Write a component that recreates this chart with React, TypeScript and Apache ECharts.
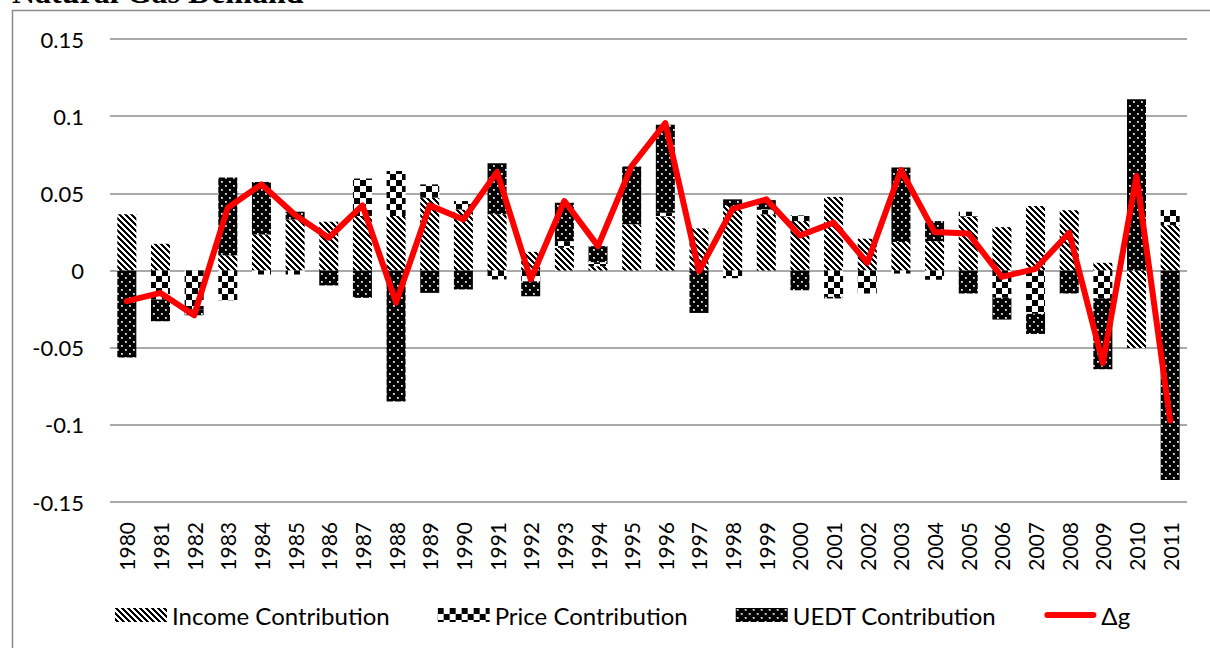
import React, { useEffect, useRef } from "react";
import * as echarts from "echarts";

const years = [
  "1980", "1981", "1982", "1983", "1984", "1985", "1986", "1987", "1988", "1989",
  "1990", "1991", "1992", "1993", "1994", "1995", "1996", "1997", "1998", "1999",
  "2000", "2001", "2002", "2003", "2004", "2005", "2006", "2007", "2008", "2009",
  "2010", "2011",
];

const incomeContribution = [
  0.0364, 0.0173, 0.0, 0.0099, 0.0234, 0.0331, 0.0316, 0.0353, 0.0353, 0.0472,
  0.0396, 0.0364, 0.0121, 0.0147, 0.0028, 0.0299, 0.0349, 0.0273, 0.0418, 0.0364,
  0.032, 0.0476, 0.0206, 0.0184, 0.019, 0.0349, 0.0281, 0.0418, 0.039, 0.005,
  -0.0502, 0.0294,
];

const priceContribution = [
  0.0, -0.0188, -0.0253, -0.0193, -0.0026, -0.0026, 0.0, 0.0243, 0.0292, 0.0086,
  0.0054, -0.0058, -0.007, 0.0043, 0.0026, 0.0, 0.0026, 0.0, -0.005, 0.0032,
  0.0037, -0.0171, -0.0149, -0.002, -0.006, 0.0032, -0.0177, -0.0281, 0.0, -0.018,
  0.0, 0.0098,
];

const uedtContribution = [
  -0.0563, -0.0141, -0.0037, 0.0503, 0.034, 0.005, -0.0097, -0.0177, -0.0849, -0.0145,
  -0.0123, 0.0331, -0.0097, 0.0249, 0.0104, 0.0375, 0.0569, -0.0275, 0.0043, 0.006,
  -0.0128, -0.001, 0.0, 0.0483, 0.013, -0.0149, -0.0141, -0.013, -0.0149, -0.046,
  0.111, -0.1357,
];

const deltaG = [
  -0.0199, -0.0145, -0.029, 0.0407, 0.0558, 0.036, 0.0212, 0.0422, -0.0208, 0.0422,
  0.0331, 0.0638, -0.0058, 0.045, 0.0158, 0.0677, 0.0955, -0.0004, 0.04, 0.0461,
  0.0227, 0.031, 0.005, 0.0651, 0.0249, 0.024, -0.0041, 0.0011, 0.0245, -0.06,
  0.0612, -0.0972,
];

const seriesNames = ["Income Contribution", "Price Contribution", "UEDT Contribution", "Δg"];

function makePattern(kind: string) {
  const size = kind === "income" ? 6 : kind === "price" ? 12 : 8;
  const c = document.createElement("canvas");
  c.width = size;
  c.height = size;
  const ctx = c.getContext("2d")!;
  ctx.fillStyle = "#ffffff";
  ctx.fillRect(0, 0, size, size);
  ctx.fillStyle = "#000000";
  if (kind === "income") {
    for (let y = 0; y < size; y++) {
      for (let x = 0; x < size; x++) {
        if ((((x - y) % 6) + 6) % 6 < 3) ctx.fillRect(x, y, 1, 1);
      }
    }
  } else if (kind === "price") {
    ctx.fillRect(0, 0, 6, 6);
    ctx.fillRect(6, 6, 6, 6);
  } else {
    ctx.fillRect(0, 0, size, size);
    ctx.fillStyle = "#a8a8a8";
    ctx.fillRect(1, 1, 2, 2);
    ctx.fillRect(5, 5, 2, 2);
    ctx.fillStyle = "#ffffff";
    ctx.fillRect(1, 1, 1, 1);
    ctx.fillRect(5, 5, 1, 1);
  }
  return { image: c as any, repeat: "repeat" as const, imageWidth: size, imageHeight: size };
}

export default function App() {
  const ref = useRef<HTMLDivElement>(null);

  useEffect(() => {
    document.body.style.margin = "0";
    if (!ref.current) return;
    const chart = echarts.init(ref.current, undefined, { renderer: "svg" });

    const incomeFill = makePattern("income");
    const priceFill = makePattern("price");
    const uedtFill = makePattern("uedt");

    const font = "Lato";

    chart.setOption({
      animation: false,
      backgroundColor: "#ffffff",
      grid: { left: 110, right: 23, top: 39, bottom: 146, containLabel: false },
      graphic: [
        {
          type: "rect",
          shape: { x: 12.5, y: 10.5, width: 1400, height: 900 },
          style: { fill: "none", stroke: "#8a8a8a", lineWidth: 1.5 },
          silent: true,
          z: -10,
        },
        {
          type: "text",
          x: 12,
          y: -8,
          style: {
            text: "Natural Gas Demand",
            font: "bold 32px 'Liberation Serif'",
            fill: "#000000",
            textAlign: "left",
            textVerticalAlign: "middle",
          },
          silent: true,
        },
      ],
      legend: {
        data: [
          { name: seriesNames[0], icon: "rect" },
          { name: seriesNames[1], icon: "rect" },
          { name: seriesNames[2], icon: "rect" },
          {
            name: seriesNames[3],
            icon: "path://M3,0 H49 A3,3 0 0 1 49,6 H3 A3,3 0 0 1 3,0 Z",
            itemStyle: { color: "#ff0000", borderWidth: 0 },
          },
        ],
        left: 115,
        top: 603,
        padding: 0,
        itemWidth: 52,
        itemHeight: 14,
        itemGap: 48,
        selectedMode: false,
        textStyle: { fontFamily: font, fontSize: 24, color: "#000000" },
      },
      xAxis: {
        type: "category",
        data: years,
        axisLine: { show: false },
        axisTick: { show: false },
        position: "bottom",
        axisLabel: {
          rotate: 90,
          margin: 20,
          fontFamily: font,
          fontSize: 21,
          color: "#000000",
          interval: 0,
        },
      },
      yAxis: {
        type: "value",
        min: -0.15,
        max: 0.15,
        interval: 0.05,
        axisLine: { show: false },
        axisTick: { show: false },
        axisLabel: {
          margin: 26,
          fontFamily: font,
          fontSize: 22,
          color: "#000000",
          formatter: (v: number) => String(parseFloat(v.toFixed(2))),
        },
        splitLine: { lineStyle: { color: "#8c8c8c", width: 1.5 } },
      },
      series: [
        {
          name: seriesNames[0],
          type: "bar",
          stack: "total",
          barWidth: 19,
          data: incomeContribution,
          itemStyle: { color: incomeFill },
        },
        {
          name: seriesNames[1],
          type: "bar",
          stack: "total",
          barWidth: 19,
          data: priceContribution,
          itemStyle: { color: priceFill },
        },
        {
          name: seriesNames[2],
          type: "bar",
          stack: "total",
          barWidth: 19,
          data: uedtContribution,
          itemStyle: { color: uedtFill },
        },
        {
          name: seriesNames[3],
          type: "line",
          data: deltaG,
          symbol: "none",
          z: 10,
          lineStyle: { color: "#ff0000", width: 6, join: "round", cap: "round" },
          itemStyle: { color: "#ff0000" },
        },
      ],
    });

    return () => chart.dispose();
  }, []);

  return <div ref={ref} style={{ width: 1210, height: 648 }} />;
}
